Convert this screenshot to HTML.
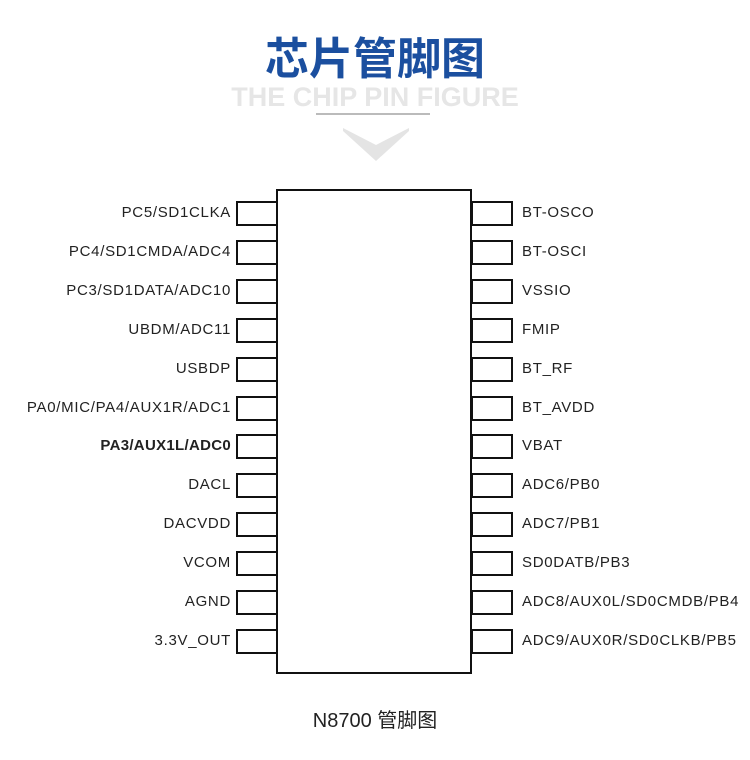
<!DOCTYPE html>
<html><head><meta charset="utf-8"><style>
body{margin:0;background:#fff;width:750px;height:760px;position:relative;overflow:hidden;font-family:"Liberation Sans","Noto Sans CJK SC",sans-serif}
.t{position:absolute;white-space:nowrap}
.pin{position:absolute;width:38px;height:21px;border:2px solid #111;box-sizing:content-box}
.l{position:absolute;font-size:15px;letter-spacing:0.7px;color:#222;white-space:nowrap;line-height:16px}
</style></head><body>
<div class="t" style="left:0;width:750px;top:29px;text-align:center;font-size:44px;font-weight:bold;color:#1b4f9f;line-height:52px;font-family:'Noto Sans CJK SC',sans-serif">芯片管脚图</div>
<div class="t" style="left:0;width:750px;top:82px;text-align:center;font-size:27px;font-weight:bold;color:#e6e6e6;line-height:30px">THE CHIP PIN FIGURE</div>
<div style="position:absolute;left:316px;top:113px;width:114px;height:2px;background:#bbb"></div>
<svg style="position:absolute;left:0;top:0" width="750" height="760"><polygon points="343,128 376,145 409,128 409,131 376,161 343,131" fill="#e4e4e4"/></svg>
<div style="position:absolute;left:276px;top:189px;width:192px;height:481px;border:2px solid #111"></div>
<div id="pins"></div>
<div class="t" style="left:0;width:750px;top:707px;text-align:center;font-size:20px;color:#222;line-height:28px">N8700 管脚图</div>
<script>
var L=["PC5/SD1CLKA","PC4/SD1CMDA/ADC4","PC3/SD1DATA/ADC10","UBDM/ADC11","USBDP","PA0/MIC/PA4/AUX1R/ADC1","PA3/AUX1L/ADC0","DACL","DACVDD","VCOM","AGND","3.3V_OUT"];
var R=["BT-OSCO","BT-OSCI","VSSIO","FMIP","BT_RF","BT_AVDD","VBAT","ADC6/PB0","ADC7/PB1","SD0DATB/PB3","ADC8/AUX0L/SD0CMDB/PB4","ADC9/AUX0R/SD0CLKB/PB5"];
var h="";
for(var i=0;i<12;i++){var y=213+i*38.9;
h+='<div class="pin" style="left:236px;top:'+(y-12)+'px"></div>';
h+='<div class="pin" style="left:471px;top:'+(y-12)+'px"></div>';
h+='<div class="l" style="right:519px;top:'+(y-8)+'px'+(i==6?';font-weight:bold;letter-spacing:0.3px':'')+'">'+L[i]+'</div>';
h+='<div class="l" style="left:522px;top:'+(y-8)+'px">'+R[i]+'</div>';}
document.getElementById("pins").innerHTML=h;
</script>
</body></html>
